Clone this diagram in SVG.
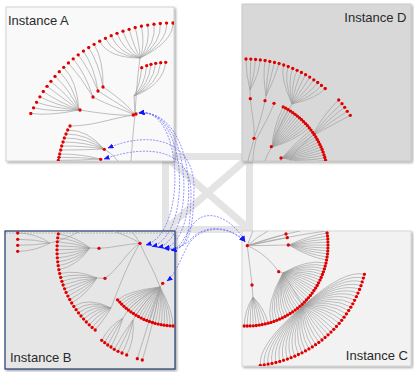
<svg xmlns="http://www.w3.org/2000/svg" width="414" height="372" viewBox="0 0 414 372">
<style>
.e{fill:none;stroke:#9e9e9e;stroke-width:0.65}
.dots{fill:none;stroke:none;marker-start:url(#dot);marker-mid:url(#dot);marker-end:url(#dot)}
.lbl{font-family:"Liberation Sans",Arial,sans-serif;font-size:13px;fill:#2a2a2a}
.cn{fill:none;stroke:#6e6eff;stroke-width:0.75;stroke-dasharray:2 1.3;marker-start:url(#tri);marker-end:url(#tri)}
.xs{fill:none;stroke:#e4e4e4;stroke-width:7}
</style>
<defs>
<marker id="dot" markerUnits="userSpaceOnUse" markerWidth="4" markerHeight="4" viewBox="-2 -2 4 4" refX="0" refY="0"><circle r="1.65" fill="#e00000"/></marker>
<marker id="tri" markerUnits="userSpaceOnUse" markerWidth="6" markerHeight="5" viewBox="0 0 6 5" refX="5.5" refY="2.5" orient="auto-start-reverse"><path d="M0,0 L6,2.5 L0,5 z" fill="#1414ff"/></marker>
<filter id="sh" x="-5%" y="-5%" width="115%" height="115%"><feDropShadow dx="1.5" dy="1.5" stdDeviation="1" flood-color="#000" flood-opacity="0.35"/></filter>
<clipPath id="cA"><rect x="6" y="7" width="168" height="154"/></clipPath>
<clipPath id="cD"><rect x="242" y="4" width="169" height="157"/></clipPath>
<clipPath id="cB"><rect x="5" y="231" width="170" height="138"/></clipPath>
<clipPath id="cC"><rect x="242" y="231" width="169" height="135"/></clipPath>
</defs>
<g id="background-symbol">
<rect class="xs" x="165.5" y="156.5" width="84" height="73"/>
<path class="xs" d="M166,157 L249,229 M249,157 L166,229" stroke-width="9"/>
</g>
<g id="instance-a">
<rect x="6" y="7" width="168" height="154" fill="#f9f9f9" stroke="#c8c8c8" stroke-width="0.8" filter="url(#sh)"/>
<g clip-path="url(#cA)">
<path class="e" d="M173,23Q173,42 140,58M166.6,23.1Q167.4,42.1 140,58M160.3,23.5Q161.8,42.5 140,58M154,24.2Q156.3,43 140,58M147.7,25.1Q150.7,43.8 140,58M141.4,26.2Q145.2,44.8 140,58M135.2,27.6Q139.8,46.1 140,58M129.1,29.3Q134.4,47.5 140,58M123,31.2Q129.1,49.2 140,58M117,33.3Q123.8,51.1 140,58M111.2,35.7Q118.6,53.2 140,58M105.4,38.3Q113.5,55.5 140,58M99.7,41.2Q108.6,58 140,58M140,58C137,80 136,98 135,115"/>
<path class="e" d="M141.7,67.7Q140,85 134,96M146.7,65.7Q145,85 134,96M151,64.3Q149,85 134,96M155.7,63.3Q153,85 134,96M160.7,62.7Q158,85 134,96M165.7,62.3Q163,85 134,96M134,96L135,115"/>
<path class="e" d="M94.1,44.3Q103.7,60.7 103,87M88.7,47.6Q98.9,63.6 103,87M83.4,51.1Q94.2,66.7 98,91M78.2,54.8Q89.7,70 98,91M73.2,58.8Q85.3,73.4 93,97M68.4,62.9Q81.1,77.1 93,97M103,87C115,95 128,105 135,115M98,91C112,100 126,108 135,115M93,97C108,105 124,110 135,115"/>
<path class="e" d="M63.7,67.3Q77,80.9 79,110M59.3,71.7Q73.1,84.8 79,110M55,76.4Q69.3,89 79,110M50.9,81.3Q65.7,93.2 79,110M47,86.3Q62.3,97.7 79,110M43.3,91.5Q59,102.2 79,110M39.9,96.8Q56,105 79,110M36.6,102.3Q53,108 79,110M33.6,107.8Q52,112 79,110M30.8,113.5Q50,116 79,110M79,110C100,113 118,116 135,115"/>
<path class="e" d="M70,126C95,126 115,117 135,115M67.7,130Q88,130 104,149M66,134Q88,134 104,149M64.3,138Q87,138 104,149M63,142Q86,142 104,149M61.7,146Q86,146 104,149M60.7,150Q85,150 104,149M59.7,154Q82,154 100,159M59,157.3Q82,157.3 100,159M58.3,160.3Q82,160.3 100,159M104,149Q112,153 118,161M135,115C133,132 132,148 131,161"/>
<polyline class="dots" points="173,23 166.6,23.1 160.3,23.5 154,24.2 147.7,25.1 141.4,26.2 135.2,27.6 129.1,29.3 123,31.2 117,33.3 111.2,35.7 105.4,38.3 99.7,41.2 94.1,44.3 88.7,47.6 83.4,51.1 78.2,54.8 73.2,58.8 68.4,62.9 63.7,67.3 59.3,71.7 55,76.4 50.9,81.3 47,86.3 43.3,91.5 39.9,96.8 36.6,102.3 33.6,107.8 30.8,113.5 141.7,67.7 146.7,65.7 151,64.3 155.7,63.3 160.7,62.7 165.7,62.3 103,87 98,91 93,97 80,110 70,126 67.7,130 66,134 64.3,138 63,142 61.7,146 60.7,150 59.7,154 59,157.3 58.3,160.3 104.3,149.3 100.7,159.3 133.3,115 136,114"/>
</g>
<text class="lbl" x="8" y="25">Instance A</text>
</g>
<g id="instance-d">
<rect x="242" y="4" width="169" height="157" fill="#d8d8d8" stroke="#c4c4c4" stroke-width="0.8" filter="url(#sh)"/>
<g clip-path="url(#cD)">
<path class="e" d="M246,59Q246,75 250,90M250.8,59.1Q250.2,75.1 250,90M255.6,59.4Q254.3,75.3 250,90M260.3,59.9Q258.5,75.7 250,90M250,90L250.3,98.7C252,115 255,128 254,138C252,148 249,155 248,161"/>
<path class="e" d="M265.1,60.5Q262.6,76.3 266,96M269.8,61.4Q266.7,77.1 266,96M274.5,62.4Q270.7,78 266,96M279.1,63.6Q274.7,79 266,96M266,96L265,100.7C262,115 258,128 254,138M274,103.3C270,115 262,128 256,140C254,148 253,155 253,161"/>
<path class="e" d="M283.7,65Q279.7,77.4 292,104M288.2,66.6Q283.7,78.8 292,104M292.7,68.4Q287.7,80.4 292,104M297.1,70.3Q291.6,82.1 292,104M301.4,72.4Q295.4,84 292,104M305.6,74.7Q299.2,86 292,104M309.7,77.1Q302.9,88.2 292,104M313.8,79.8Q306.5,90.5 292,104M317.7,82.5Q310,93 292,104M321.5,85.4Q313.4,95.6 292,104M325.2,88.5Q316.7,98.3 292,104M292,104C283,120 275,135 272,147M272,147C268,153 266,157 265,161"/>
<path class="e" d="M338.7,100Q325,112 312,136M342,103.7Q328,115 312,136M344.7,107.3Q330,118 312,136M347.3,111.3Q332,121 312,136M350.3,115.3Q334,124 312,136M312,136C302,145 294,152 290,161"/>
<path class="e" d="M283.2,106.9Q273.2,126.5 272,147M285.7,108.2Q275.1,127.5 272,147M288.1,109.7Q276.8,128.5 272,147M290.5,111.1Q278.6,129.6 272,147M292.8,112.7Q280.3,130.8 272,147M295.1,114.3Q281.9,132 272,147M297.3,116.1Q283.6,133.2 272,147M299.5,117.9Q285.1,134.5 272,147M301.6,119.7Q286.7,135.9 272,147M303.6,121.7Q288.2,137.3 272,147M305.6,123.7Q289.6,138.8 272,147M307.5,125.7Q291,140.3 272,147M309.3,127.9Q292.3,141.9 272,147"/>
<path class="e" d="M311,130.1Q297.6,140.4 282,158M312.7,132.3Q298.9,142.2 282,158M314.3,134.6Q300.1,144 282,158M315.8,137Q301.3,145.9 282,158M317.2,139.4Q302.5,147.8 282,158M318.6,141.9Q303.5,149.8 282,158M319.8,144.4Q304.5,151.8 282,158M321,146.9Q305.5,153.8 282,158M322.1,149.5Q306.3,155.8 282,158M323.1,152.1Q307.1,157.9 282,158M324,154.8Q307.8,160 282,158M324.8,157.5Q308.5,162.1 282,158M325.6,160.2Q309.1,164.3 282,158M282,158L280,162"/>
<polyline class="dots" points="246,59 250.8,59.1 255.6,59.4 260.3,59.9 265.1,60.5 269.8,61.4 274.5,62.4 279.1,63.6 283.7,65 288.2,66.6 292.7,68.4 297.1,70.3 301.4,72.4 305.6,74.7 309.7,77.1 313.8,79.8 317.7,82.5 321.5,85.4 325.2,88.5 283.2,106.9 285.7,108.2 288.1,109.7 290.5,111.1 292.8,112.7 295.1,114.3 297.3,116.1 299.5,117.9 301.6,119.7 303.6,121.7 305.6,123.7 307.5,125.7 309.3,127.9 311,130.1 312.7,132.3 314.3,134.6 315.8,137 317.2,139.4 318.6,141.9 319.8,144.4 321,146.9 322.1,149.5 323.1,152.1 324,154.8 324.8,157.5 325.6,160.2 338.7,100 342,103.7 344.7,107.3 347.3,111.3 350.3,115.3 250.3,98.7 265,100.7 274,103.3 254,138.3 271.3,146.7 281,158"/>
</g>
<text class="lbl" x="406.5" y="22" text-anchor="end">Instance D</text>
</g>
<g id="instance-b">
<rect x="5" y="231" width="170" height="138" fill="#e6e6e6" stroke="#1f3a6e" stroke-width="1.2" filter="url(#sh)"/>
<line x1="6" y1="233" x2="174" y2="233" stroke="#9a9a9a" stroke-width="0.6" stroke-dasharray="2 1"/>
<g clip-path="url(#cB)">
<path class="e" d="M17.7,233Q35,233 50,243M17.7,239.3Q35,239.3 50,243M17.7,245.3Q35,245.3 50,243M17.7,251.3Q35,251.3 50,243M50,243C62,240 72,236 80,231"/>
<path class="e" d="M58.3,233.9Q76,236.7 90,248M57.7,237.8Q75.6,240 90,248M57.3,241.8Q75.3,243.2 90,248M57.1,245.8Q75.1,246.5 90,248M57,249.8Q75,249.8 90,248M57.1,253.8Q75.1,253.1 90,248M57.3,257.8Q75.2,256.4 90,248M57.7,261.8Q75.6,259.7 90,248M58.2,265.7Q76,263 90,248M58.9,269.7Q76.6,266.2 90,248M90,248L99,248.3C112,248 126,244 140,243.3"/>
<path class="e" d="M59.7,273.6Q77.3,269.4 97,278M60.7,277.4Q78.1,272.6 97,278M61.9,281.3Q79,275.8 97,278M63.1,285Q80.1,278.9 97,278M64.6,288.8Q81.2,282 97,278M66.1,292.4Q82.5,285 97,278M67.9,296.1Q84,288 97,278M69.7,299.6Q85.5,290.9 97,278M71.7,303Q87.1,293.8 97,278M97,278L105,278.3C118,270 128,250 140,243.3"/>
<path class="e" d="M73.8,306.4Q88.9,296.6 111,308M76.1,309.7Q90.7,299.3 111,308M78.5,312.9Q92.7,301.9 111,308M81,316Q94.8,304.5 111,308M83.6,319.1Q97,307 111,308M86.3,322Q99.2,309.4 111,308M89.2,324.8Q101.5,311.7 111,308M92.1,327.5Q104,313.9 111,308M95.2,330Q106.5,316.1 111,308M111,308C118,290 128,262 140,243.3"/>
<path class="e" d="M117.6,299.9Q128.2,290.7 160,287M119.7,302.1Q129.9,292.5 160,287M121.7,304.2Q131.6,294.2 160,287M123.9,306.3Q133.3,295.9 160,287M126.2,308.3Q135.2,297.5 160,287M128.5,310.1Q137.1,299.1 160,287M130.9,311.9Q139.1,300.5 160,287M133.4,313.6Q141.1,301.9 160,287M136,315.2Q143.2,303.2 160,287M138.6,316.7Q145.3,304.4 160,287M141.2,318.1Q147.4,305.5 160,287M143.9,319.4Q149.7,306.6 160,287M146.7,320.5Q151.9,307.5 160,287M149.5,321.6Q154.2,308.4 160,287M152.4,322.5Q156.5,309.2 160,287M155.2,323.4Q158.9,309.9 160,287M158.2,324.1Q161.3,310.4 160,287M161.1,324.7Q163.6,310.9 160,287M164,325.2Q166.1,311.3 160,287M167,325.6Q168.5,311.7 160,287M170,325.8Q170.9,311.9 160,287M173,326Q173.4,312 160,287M160,287L162.7,283.3M140,243.3C146,258 155,272 160,287"/>
<path class="e" d="M101.7,340.3Q110,325 123,318M104.7,342.7Q112.7,327.7 123,318M107.7,345Q115.7,330 123,318M111,347Q119,332 123,318M114.3,349.3Q122.3,334.3 133,320M118,351.3Q126,336.3 133,320M122,353Q130,338 133,320M126.7,355Q134.7,340 133,320M123,318C130,305 145,295 160,287M133,320C140,308 150,296 160,287M137.3,358.7C145,335 152,310 160,287M142.3,360C150,335 156,310 160,287M140,243.3C132,238 122,234 113,231M140,243.3C137,238 134,234 131,231"/>
<polyline class="dots" points="17.7,233 17.7,239.3 17.7,245.3 17.7,251.3 58.3,233.9 57.7,237.8 57.3,241.8 57.1,245.8 57,249.8 57.1,253.8 57.3,257.8 57.7,261.8 58.2,265.7 58.9,269.7 59.7,273.6 60.7,277.4 61.9,281.3 63.1,285 64.6,288.8 66.1,292.4 67.9,296.1 69.7,299.6 71.7,303 73.8,306.4 76.1,309.7 78.5,312.9 81,316 83.6,319.1 86.3,322 89.2,324.8 92.1,327.5 95.2,330 117.6,299.9 119.7,302.1 121.7,304.2 123.9,306.3 126.2,308.3 128.5,310.1 130.9,311.9 133.4,313.6 136,315.2 138.6,316.7 141.2,318.1 143.9,319.4 146.7,320.5 149.5,321.6 152.4,322.5 155.2,323.4 158.2,324.1 161.1,324.7 164,325.2 167,325.6 170,325.8 173,326 101.7,340.3 104.7,342.7 107.7,345 111,347 114.3,349.3 118,351.3 122,353 126.7,355 137.3,358.7 142.3,360 99,248.3 105,278.3 140,243.3 162.7,283.3"/>
</g>
<text class="lbl" x="10" y="361.5">Instance B</text>
</g>
<g id="instance-c">
<rect x="242" y="231" width="169" height="135" fill="#f2f2f2" stroke="#cfcfcf" stroke-width="0.8" filter="url(#sh)"/>
<g clip-path="url(#cC)">
<path class="e" d="M247.3,245.7L286,234M247.3,245.7L287.3,237.7M247.3,245.7Q258,236 268,231M247.3,245.7Q275,236 300,231M247.3,245.7Q290,236 326,231M247.3,245.7Q250,238 253,231"/>
<path class="e" d="M327.1,233Q308.3,235.8 289,245M327.5,236Q308.6,238.1 289,245M327.8,239Q308.8,240.4 289,245M327.9,242.1Q309,242.7 289,245M328,245.1Q309,245.1 289,245M327.9,248.1Q309,247.4 289,245M327.8,251.1Q308.8,249.7 289,245M327.5,254.1Q308.6,252 289,245M327.1,257.1Q308.3,254.3 289,245M326.6,260.1Q307.9,256.6 289,245M247.3,245.7L289,245"/>
<path class="e" d="M326,263.1Q307.4,258.8 283,273M325.2,266Q306.9,261.1 283,273M324.4,268.9Q306.2,263.3 283,273M323.4,271.8Q305.5,265.5 283,273M322.4,274.6Q304.7,267.7 283,273M321.2,277.4Q303.8,269.8 283,273M320,280.1Q302.9,271.9 283,273M318.6,282.8Q301.8,274 283,273M317.2,285.5Q300.7,276 283,273M315.6,288.1Q299.5,278 283,273M313.9,290.6Q298.2,279.9 283,273M312.2,293.1Q296.9,281.8 283,273M310.4,295.5Q295.5,283.6 283,273M308.4,297.8Q294,285.4 283,273M306.4,300Q292.5,287.1 283,273M304.3,302.2Q290.9,288.8 283,273M302.2,304.3Q289.2,290.4 283,273M299.9,306.3Q287.5,292 283,273M297.6,308.3Q285.7,293.4 283,273M295.2,310.1Q283.9,294.8 283,273M292.7,311.9Q282,296.2 283,273M290.2,313.5Q280.1,297.5 283,273M287.6,315.1Q278.1,298.6 283,273M285,316.6Q276.1,299.8 283,273M282.3,317.9Q274,300.8 283,273M279.5,319.2Q271.9,301.8 283,273M276.7,320.3Q269.8,302.7 283,273M273.9,321.4Q267.6,303.5 283,273M271,322.4Q265.4,304.2 283,273M247.3,245.7C262,252 272,262 278.7,271.7L283,273"/>
<path class="e" d="M268.1,323.2Q264,307.8 253,297M265.2,323.9Q261.6,308.3 253,297M262.2,324.6Q259.2,308.8 253,297M259.3,325.1Q256.8,309.3 253,297M256.3,325.5Q254.4,309.6 253,297M253.3,325.8Q252,309.8 253,297M250.2,325.9Q249.6,309.9 253,297M247.2,326Q247.2,310 253,297M244.2,326Q244.7,310 253,297M247.3,245.7C249,260 251,274 252,285L253,297"/>
<path class="e" d="M364.4,274.3Q344,269.2 303,306M363.4,278.1Q343.2,272.4 303,306M362.2,281.9Q342.2,275.5 303,306M361,285.7Q341.2,278.6 303,306M359.6,289.4Q340,281.7 303,306M358,293.1Q338.8,284.8 303,306M356.4,296.7Q337.4,287.7 303,306M354.6,300.3Q336,290.7 303,306M352.8,303.8Q334.4,293.6 303,306M350.8,307.2Q332.8,296.4 303,306M348.7,310.6Q331,299.2 303,306M346.4,313.9Q329.2,302 303,306M344.1,317.2Q327.3,304.6 303,306M341.7,320.3Q325.3,307.3 303,306M339.2,323.4Q323.2,309.8 303,306M336.5,326.4Q321,312.3 303,306M333.8,329.3Q318.7,314.7 303,306M331,332.1Q316.4,317 303,306M328.1,334.8Q314,319.2 303,306M325.1,337.4Q311.5,321.4 303,306M322,340Q309,323.5 303,306M318.8,342.4Q306.4,325.5 303,306M315.6,344.7Q303.7,327.4 303,306M312.3,346.9Q301,329.2 303,306M308.9,348.9Q298.2,330.9 303,306M305.5,350.9Q295.3,332.6 303,306M302,352.8Q292.4,334.1 303,306M298.4,354.5Q289.5,335.5 303,306M294.8,356.2Q286.5,336.9 303,306M291.1,357.7Q283.4,338.1 303,306M287.4,359.1Q280.4,339.3 303,306M283.6,360.3Q277.2,340.3 303,306M279.8,361.5Q274.1,341.3 303,306M275.9,362.5Q270.9,342.1 303,306M272,363.4Q267.7,342.8 303,306M268.1,364.1Q264.5,343.5 303,306M264.2,364.8Q261.2,344 303,306M260.3,365.3Q258,344.4 303,306M303,306C296,294 289,283 283,273"/>
<polyline class="dots" points="327.1,233 327.5,236 327.8,239 327.9,242.1 328,245.1 327.9,248.1 327.8,251.1 327.5,254.1 327.1,257.1 326.6,260.1 326,263.1 325.2,266 324.4,268.9 323.4,271.8 322.4,274.6 321.2,277.4 320,280.1 318.6,282.8 317.2,285.5 315.6,288.1 313.9,290.6 312.2,293.1 310.4,295.5 308.4,297.8 306.4,300 304.3,302.2 302.2,304.3 299.9,306.3 297.6,308.3 295.2,310.1 292.7,311.9 290.2,313.5 287.6,315.1 285,316.6 282.3,317.9 279.5,319.2 276.7,320.3 273.9,321.4 271,322.4 268.1,323.2 265.2,323.9 262.2,324.6 259.3,325.1 256.3,325.5 253.3,325.8 250.2,325.9 247.2,326 244.2,326 364.4,274.3 363.4,278.1 362.2,281.9 361,285.7 359.6,289.4 358,293.1 356.4,296.7 354.6,300.3 352.8,303.8 350.8,307.2 348.7,310.6 346.4,313.9 344.1,317.2 341.7,320.3 339.2,323.4 336.5,326.4 333.8,329.3 331,332.1 328.1,334.8 325.1,337.4 322,340 318.8,342.4 315.6,344.7 312.3,346.9 308.9,348.9 305.5,350.9 302,352.8 298.4,354.5 294.8,356.2 291.1,357.7 287.4,359.1 283.6,360.3 279.8,361.5 275.9,362.5 272,363.4 268.1,364.1 264.2,364.8 260.3,365.3 286,234 287.3,237.7 288.3,245 278.7,271.7 252,285 247.3,245.7"/>
</g>
<text class="lbl" x="408" y="360" text-anchor="end">Instance C</text>
</g>
<g id="connectors">
<path class="cn" d="M139,113C183,105 188,232 146,245"/>
<path class="cn" d="M139,113C188,106 193,235 152,246.5"/>
<path class="cn" d="M139,113C193,107 197,238 158,247.5"/>
<path class="cn" d="M139,113C198,108 202,240 164,248.5"/>
<path class="cn" d="M108,148C150,130 195,140 194,190C193,228 190,249 171,250"/>
<path class="cn" d="M104,159C150,143 192,150 191,195C190,230 188,249 171,250"/>
<path class="cn" d="M245,241.5C232,218 208,208 195,222C185,233 182,249 171,250"/>
<path class="cn" d="M245,241.5C228,225 205,225 192,238C185,245 180,249 164,248.5"/>
<path class="cn" d="M245,241.5C225,222 198,228 188,245C180,260 175,275 167,281"/>
</g>
</svg>
